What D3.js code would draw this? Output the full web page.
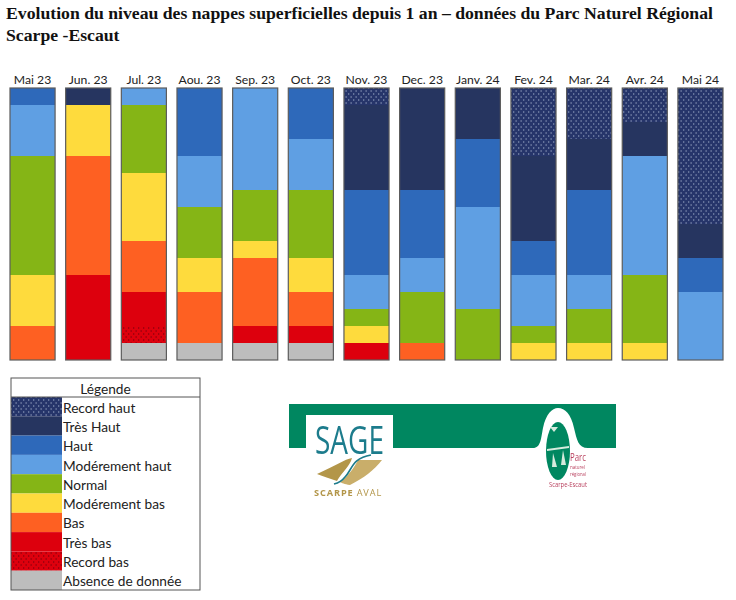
<!DOCTYPE html>
<html>
<head>
<meta charset="utf-8">
<script src="https://cdn.jsdelivr.net/npm/d3@7"></script>
<style>
  html, body { margin: 0; padding: 0; background: #fff; }
  svg { display: block; }
</style>
</head>
<body>
<div id="chart"></div>
<script>
var months = ["Mai 23", "Jun. 23", "Jul. 23", "Aou. 23", "Sep. 23", "Oct. 23", "Nov. 23",
  "Dec. 23", "Janv. 24", "Fev. 24", "Mar. 24", "Avr. 24", "Mai 24"];

var levels = ["Record haut", "Très Haut", "Haut", "Modérement haut", "Normal",
  "Modérement bas", "Bas", "Très bas", "Record bas", "Absence de donnée"];

// number of stations per level, one value per month
var recordHaut = [0, 0, 0, 0, 0, 0, 1, 0, 0, 4, 3, 2, 8];
var tresHaut   = [0, 1, 0, 0, 0, 0, 5, 6, 3, 5, 3, 2, 2];
var haut       = [1, 0, 0, 4, 0, 3, 5, 4, 4, 2, 5, 0, 2];
var modHaut    = [3, 0, 1, 3, 6, 3, 2, 2, 6, 3, 2, 7, 4];
var normal     = [7, 0, 4, 3, 3, 4, 1, 3, 3, 1, 2, 4, 0];
var modBas     = [3, 3, 4, 2, 1, 2, 1, 0, 0, 1, 1, 1, 0];
var bas        = [2, 7, 3, 3, 4, 2, 0, 1, 0, 0, 0, 0, 0];
var tresBas    = [0, 5, 2, 0, 1, 1, 1, 0, 0, 0, 0, 0, 0];
var recordBas  = [0, 0, 1, 0, 0, 0, 0, 0, 0, 0, 0, 0, 0];
var absence    = [0, 0, 1, 1, 1, 1, 0, 0, 0, 0, 0, 0, 0];

var levelValues = [recordHaut, tresHaut, haut, modHaut, normal, modBas, bas, tresBas, recordBas, absence];

var colors = ["url(#dotsHaut)", "#253461", "#2f69ba", "#5f9fe3", "#85b518",
  "#fedb3d", "#fe6120", "#dd0010", "url(#dotsBas)", "#bdbdbd"];

var titleLines = ["Evolution du niveau des nappes superficielles depuis 1 an – données du Parc Naturel Régional",
  "Scarpe -Escaut"];

var svgWidth = 736;
var svgHeight = 600;

var chart = { top: 88, bottom: 360, left: 10, right: 723 };
var legend = { left: 11, right: 200, top: 378, header: 397, bottom: 590, swatch: 51 };

var svg = d3.select("#chart")
  .append("svg")
  .attr("width", svgWidth)
  .attr("height", svgHeight);

// dotted fills for the two record levels
var defs = svg.append("defs");

function addDots(id, base, dot) {
  var p = defs.append("pattern")
    .attr("id", id)
    .attr("width", 5)
    .attr("height", 6)
    .attr("patternUnits", "userSpaceOnUse");
  p.append("rect").attr("width", 5).attr("height", 6).attr("fill", base);
  p.append("rect").attr("x", 0.5).attr("y", 0.5).attr("width", 1.3).attr("height", 1).attr("fill", dot);
  p.append("rect").attr("x", 3).attr("y", 3.5).attr("width", 1.3).attr("height", 1).attr("fill", dot);
}
addDots("dotsHaut", "#26366a", "#a3afcc");
addDots("dotsBas", "#dd0010", "#6e0609");

defs.append("filter")
  .attr("id", "soft")
  .append("feGaussianBlur")
  .attr("stdDeviation", 0.45);

// title
svg.append("g").selectAll("text")
  .data(titleLines)
  .enter()
  .append("text")
  .attr("x", 6)
  .attr("y", (d, i) => 19 + i * 22)
  .attr("font-family", "'Liberation Serif', serif")
  .attr("font-weight", "bold")
  .attr("font-size", 17.7)
  .attr("fill", "#111")
  .text(d => d);

// scales
var x = d3.scaleBand()
  .domain(months)
  .range([chart.left, chart.right])
  .paddingInner(0.19)
  .paddingOuter(0);

var y = d3.scaleLinear()
  .domain([0, d3.sum(levelValues, v => v[0])])
  .range([chart.top, chart.bottom]);

var color = d3.scaleOrdinal().domain(levels).range(colors);

// stacked columns, first level on top
var rows = months.map(function(m, i) {
  var row = { month: m };
  levels.forEach(function(l, j) { row[l] = levelValues[j][i]; });
  return row;
});

var stacked = d3.stack().keys(levels)(rows);

var barGroup = svg.append("g").attr("filter", "url(#soft)");

barGroup.selectAll("g")
  .data(stacked)
  .enter()
  .append("g")
  .attr("fill", d => color(d.key))
  .selectAll("rect")
  .data(d => d.filter(s => s[1] > s[0]))
  .enter()
  .append("rect")
  .attr("x", d => x(d.data.month))
  .attr("y", d => y(d[0]))
  .attr("width", x.bandwidth())
  .attr("height", d => y(d[1]) - y(d[0]));

// grey outline of each column
barGroup.selectAll("rect.outline")
  .data(months)
  .enter()
  .append("rect")
  .attr("class", "outline")
  .attr("x", d => x(d))
  .attr("y", chart.top)
  .attr("width", x.bandwidth())
  .attr("height", chart.bottom - chart.top)
  .attr("fill", "none")
  .attr("stroke", "#5c5c5c")
  .attr("stroke-width", 1.2);

// month labels
var topAxis = d3.axisTop(x).tickSize(0).tickPadding(0);

var axisGroup = svg.append("g")
  .attr("transform", `translate(0, ${chart.top - 4})`)
  .call(topAxis);

axisGroup.select(".domain").remove();
axisGroup.selectAll("text")
  .attr("font-family", "Lato, sans-serif")
  .attr("font-size", 12.2)
  .attr("fill", "#222");

// legend
var legendY = d3.scaleBand()
  .domain(levels)
  .range([legend.header, legend.bottom]);

var legendGroup = svg.append("g");

legendGroup.append("g")
  .attr("filter", "url(#soft)")
  .selectAll("rect")
  .data(levels)
  .enter()
  .append("rect")
  .attr("x", legend.left)
  .attr("y", d => legendY(d))
  .attr("width", legend.swatch)
  .attr("height", legendY.bandwidth())
  .attr("fill", d => color(d));

legendGroup.append("rect")
  .attr("x", legend.left)
  .attr("y", legend.top)
  .attr("width", legend.right - legend.left)
  .attr("height", legend.bottom - legend.top)
  .attr("fill", "none")
  .attr("stroke", "#555")
  .attr("stroke-width", 1);

legendGroup.append("line")
  .attr("x1", legend.left)
  .attr("x2", legend.right)
  .attr("y1", legend.header)
  .attr("y2", legend.header)
  .attr("stroke", "#555");

legendGroup.append("text")
  .attr("x", (legend.left + legend.right) / 2)
  .attr("y", legend.top + 16)
  .attr("text-anchor", "middle")
  .attr("font-family", "Lato, sans-serif")
  .attr("font-size", 13.7)
  .attr("fill", "#222")
  .text("Légende");

legendGroup.selectAll("text.entry")
  .data(levels)
  .enter()
  .append("text")
  .attr("class", "entry")
  .attr("x", legend.left + legend.swatch + 1)
  .attr("y", d => legendY(d) + legendY.bandwidth() / 2 + 6)
  .attr("font-family", "Lato, sans-serif")
  .attr("font-size", 13.7)
  .attr("fill", "#222")
  .text(d => d);

// logo banner
var logo = svg.append("g").attr("filter", "url(#soft)");

logo.append("rect")
  .attr("x", 289).attr("y", 404)
  .attr("width", 327).attr("height", 44)
  .attr("fill", "#028761");

logo.append("rect")
  .attr("x", 306).attr("y", 415)
  .attr("width", 87).attr("height", 34)
  .attr("fill", "#fff");

logo.append("text")
  .attr("x", 315).attr("y", 454)
  .attr("textLength", 69)
  .attr("lengthAdjust", "spacingAndGlyphs")
  .attr("font-family", "'Open Sans', sans-serif")
  .attr("font-size", 39)
  .attr("fill", "#1d7b8c")
  .text("SAGE");

logo.append("path")
  .attr("d", "M317,474 C335,466 345,459 352,458 C350,466 342,472 337,481 C330,479 323,476 317,474 Z")
  .attr("fill", "#b3964a");
logo.append("path")
  .attr("d", "M358,460 L382,460 C374,470 364,478 350,485 C344,484 342,483 340,482 C348,476 354,468 358,460 Z")
  .attr("fill", "#c9ae6a");
logo.append("path")
  .attr("d", "M371,455 C352,458 352,470 345,477 C342,481 338,483 334,484")
  .attr("fill", "none")
  .attr("stroke", "#1d7b8c")
  .attr("stroke-width", 1.6);

var scarpe = logo.append("text")
  .attr("x", 314).attr("y", 495.5)
  .attr("font-family", "'Open Sans', sans-serif")
  .attr("font-size", 9.2)
  .attr("letter-spacing", 0.9)
  .attr("fill", "#b3964a");
scarpe.append("tspan").attr("font-weight", "bold").text("SCARPE");
scarpe.append("tspan").attr("dx", 3).text("AVAL");

// park emblem: white arch over the band, green oval below
logo.append("path")
  .attr("d", "M533,448 C541,448 541,438 543,428 C546,414 552,408 558,408 C565,408 571,414 574,428 C577,440 578,448 588,448 Z")
  .attr("fill", "#fff");

logo.append("ellipse")
  .attr("cx", 558).attr("cy", 451)
  .attr("rx", 12).attr("ry", 29)
  .attr("fill", "#028761");

// small star and figures inside the oval
logo.append("path")
  .attr("d", "M550,427 L558,427 L554,432 Z M547,449 L569,446 L569,448 L547,451 Z M553,453 L557,467 L552,467 Z M563,450 L566,465 L561,465 Z")
  .attr("fill", "#d5ebdd");

// name, size and width of each line of the park emblem
var parkText = [["Parc", 570, 461, 10, 16], ["naturel", 570, 469, 6, 15],
  ["régional", 570, 476, 6, 16], ["Scarpe-Escaut", 549, 487, 8, 38]];

logo.selectAll("text.park")
  .data(parkText)
  .enter()
  .append("text")
  .attr("class", "park")
  .attr("x", d => d[1])
  .attr("y", d => d[2])
  .attr("textLength", d => d[4])
  .attr("lengthAdjust", "spacingAndGlyphs")
  .attr("font-family", "'Open Sans', sans-serif")
  .attr("font-size", d => d[3])
  .attr("fill", "#b9415f")
  .text(d => d[0]);
</script>
</body>
</html>
